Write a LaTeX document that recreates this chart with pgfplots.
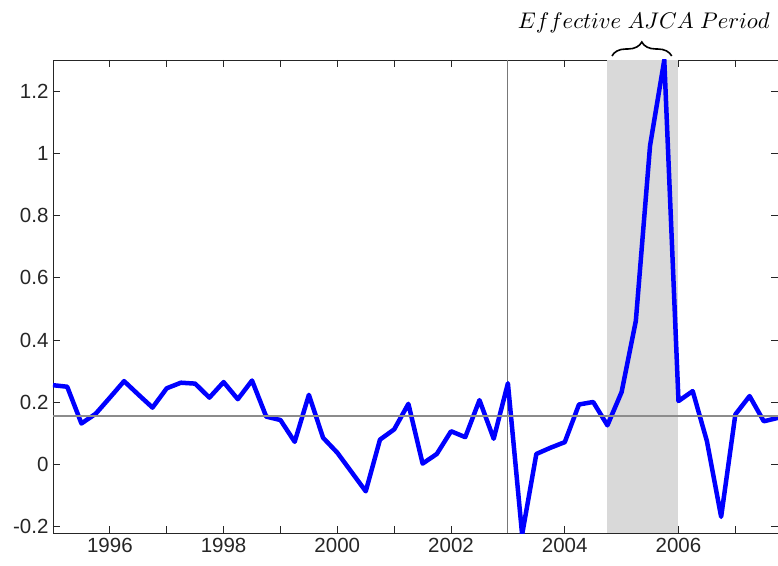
\documentclass[border=0pt]{standalone}
\usepackage{graphicx}
\usepackage{fontspec}
\setmainfont{Liberation Sans}
\usepackage{pgfplots}
\pgfplotsset{compat=1.18}
\usetikzlibrary{decorations.pathreplacing}
\definecolor{axgray}{RGB}{38,38,38}
\definecolor{shade}{RGB}{217,217,217}
\definecolor{hline}{RGB}{140,140,140}
\definecolor{vline}{RGB}{120,120,120}
\pgfplotstableread{
t v
1995.00 0.255
1995.25 0.250
1995.50 0.132
1995.75 0.163
1996.00 0.215
1996.25 0.268
1996.50 0.225
1996.75 0.183
1997.00 0.245
1997.25 0.263
1997.50 0.260
1997.75 0.215
1998.00 0.265
1998.25 0.210
1998.50 0.270
1998.75 0.154
1999.00 0.143
1999.25 0.073
1999.50 0.224
1999.75 0.086
2000.00 0.038
2000.25 -0.024
2000.50 -0.086
2000.75 0.080
2001.00 0.113
2001.25 0.195
2001.50 0.003
2001.75 0.034
2002.00 0.107
2002.25 0.088
2002.50 0.207
2002.75 0.083
2003.00 0.261
2003.25 -0.225
2003.50 0.034
2003.75 0.054
2004.00 0.072
2004.25 0.193
2004.50 0.201
2004.75 0.126
2005.00 0.233
2005.25 0.462
2005.50 1.025
2005.75 1.300
2006.00 0.204
2006.25 0.236
2006.50 0.075
2006.75 -0.168
2007.00 0.161
2007.25 0.220
2007.50 0.139
2007.75 0.150
}\datatable
\begin{document}
\begin{tikzpicture}
\begin{axis}[
  scale only axis, width=725bp, height=473bp,
  xmin=1995, xmax=2007.75, ymin=-0.22, ymax=1.3,
  axis line style={axgray, line width=0.8bp},
  xtick={1996,...,2007},
  xticklabels={1996,,1998,,2000,,2002,,2004,,2006,},
  ytick={-0.2,0,0.2,0.4,0.6,0.8,1,1.2},
  yticklabels={-0.2,0,0.2,0.4,0.6,0.8,1,1.2},
  tick align=inside, major tick length=7bp,
  tick style={axgray, line width=0.8bp},
  ticklabel style={font=\fontsize{20.5bp}{22bp}\selectfont, text=axgray},
  yticklabel style={xshift=-1bp},
  xticklabel style={yshift=-2bp},
]
\addplot[fill=shade, draw=none] coordinates {(2004.75,-0.22) (2006,-0.22) (2006,1.3) (2004.75,1.3)} -- cycle;
\addplot[vline, line width=0.9bp] coordinates {(2003,-0.22) (2003,1.3)};
\addplot[blue, line width=4.5bp, line join=round] table[x=t, y=v] {\datatable};
\addplot[hline, line width=1.8bp] coordinates {(1995,0.155) (2007.75,0.155)};
\coordinate (b1) at (axis cs:2004.83,1.3);
\coordinate (b2) at (axis cs:2005.88,1.3);
\coordinate (tx) at (axis cs:2005.39,1.3);
\end{axis}
\draw[black, line width=1.6bp, decorate, decoration={brace, amplitude=14bp}] ([yshift=4bp]b1) -- ([yshift=4bp]b2);
\node[anchor=base, inner sep=0pt] at ([yshift=31bp]tx) {\resizebox{252bp}{!}{$Effective\ AJCA\ Period$}};
\pgfresetboundingbox
\path[use as bounding box] (-53bp,-33bp) rectangle (725bp,533bp);
\end{tikzpicture}
\end{document}
